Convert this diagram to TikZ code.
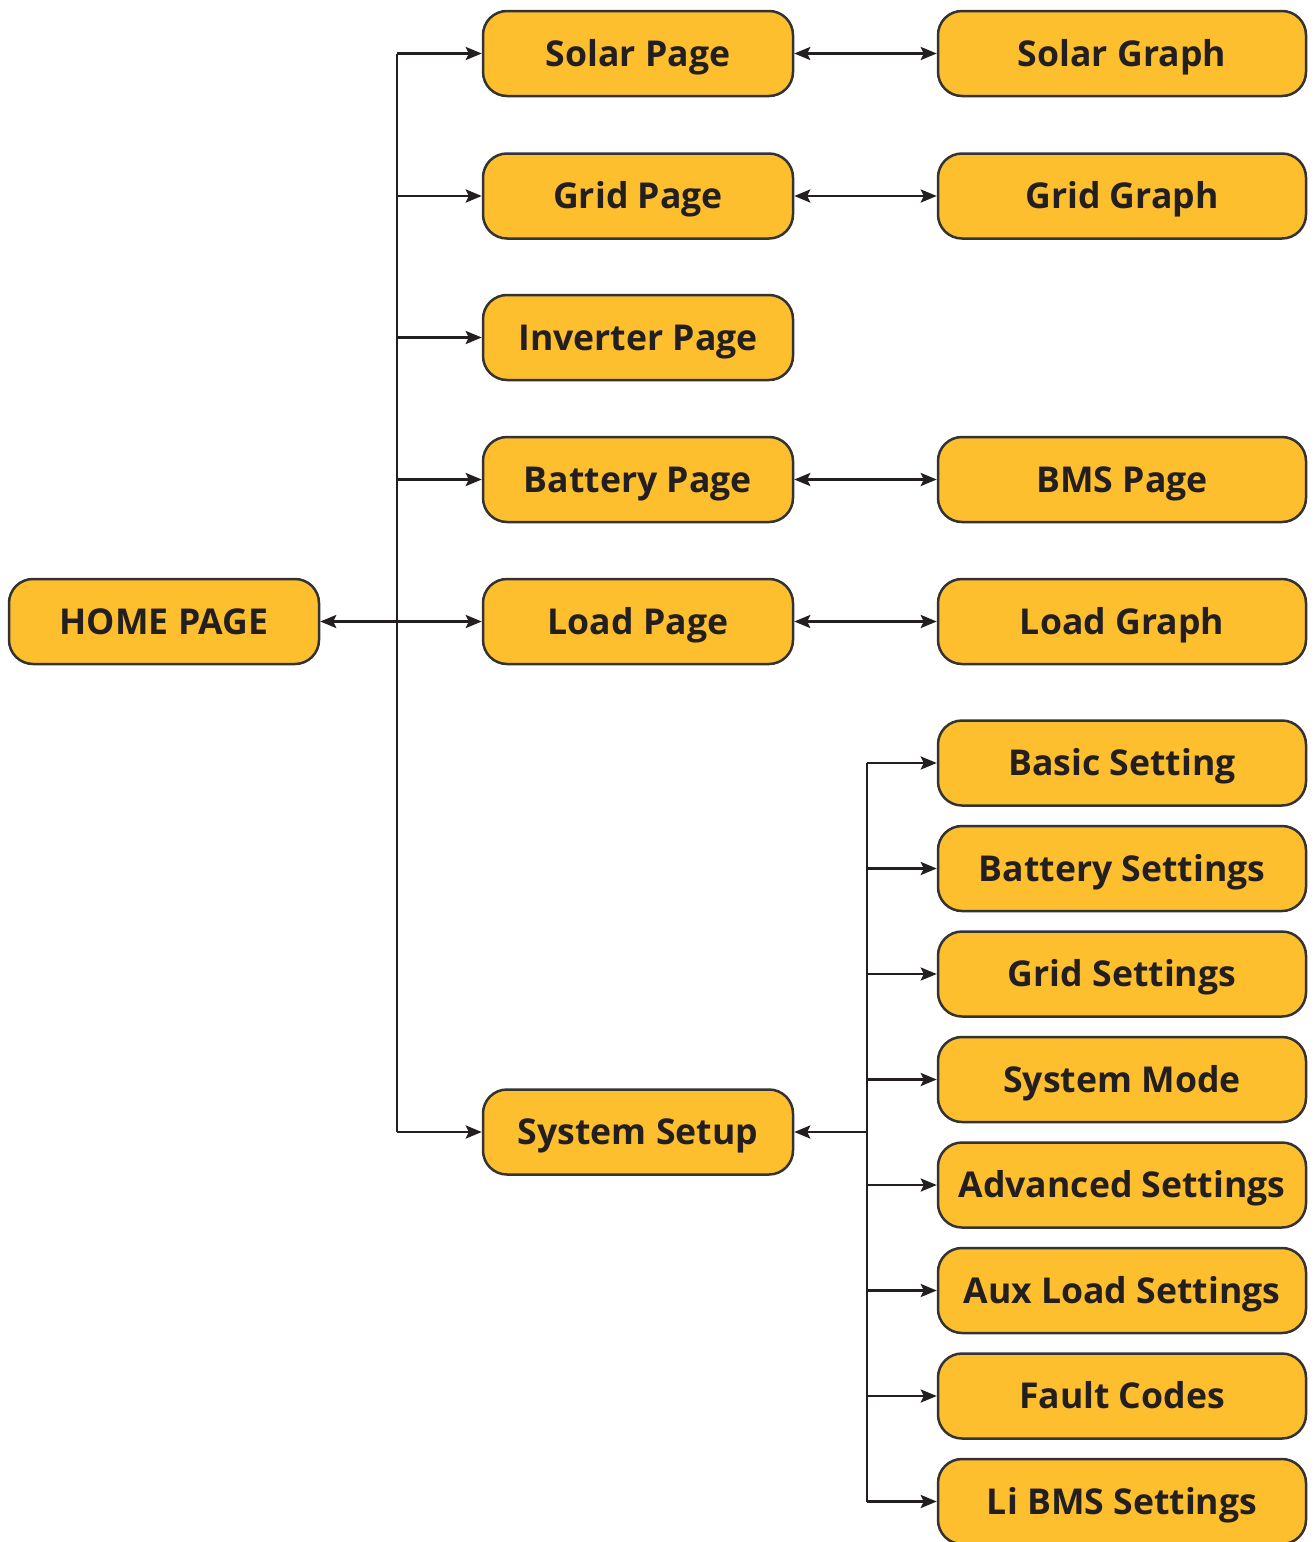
\documentclass[tikz,border=0pt]{standalone}
\usepackage{fontspec}
\setmainfont{Open Sans}
\usetikzlibrary{arrows.meta}
\definecolor{boxfill}{HTML}{FDBF2D}
\definecolor{boxline}{HTML}{333333}
\definecolor{ink}{HTML}{231F20}
\tikzset{
  pagebox/.style={draw=boxline, fill=boxfill, line width=1.25pt, rounded corners=12pt,
    minimum width=155pt, minimum height=42.5pt, inner sep=0pt, text=ink,
    text height=12.8pt, text depth=0pt,
    font=\fontsize{17.8}{20}\selectfont\bfseries},
  widebox/.style={pagebox, minimum width=184pt},
  conn/.style={draw=ink, line width=1.25pt},
  arr/.style={conn, -{Stealth[length=8pt,width=6.5pt,inset=1.5pt]}},
  darr/.style={conn, {Stealth[length=8pt,width=6.5pt,inset=1.5pt]}-{Stealth[length=8pt,width=6.5pt,inset=1.5pt]}}
}
\begin{document}
\begin{tikzpicture}[x=0.5pt,y=-0.5pt]
\useasboundingbox (0,0) rectangle (1314,1542);
\node[pagebox] (home) at (164,621.5) {HOME PAGE};
\node[pagebox] (solar) at (638,53.5) {Solar Page};
\node[pagebox] (grid) at (638,196) {Grid Page};
\node[pagebox] (inv) at (638,337.5) {Inverter Page};
\node[pagebox] (bat) at (638,479.5) {Battery Page};
\node[pagebox] (load) at (638,621.5) {Load Page};
\node[pagebox] (setup) at (638,1132) {System Setup};
\node[widebox] (solarg) at (1122,53.5) {Solar Graph};
\node[widebox] (gridg) at (1122,196) {Grid Graph};
\node[widebox] (bms) at (1122,479.5) {BMS Page};
\node[widebox] (loadg) at (1122,621.5) {Load Graph};
\node[widebox] (s1) at (1122,763) {Basic Setting};
\node[widebox] (s2) at (1122,868.5) {Battery Settings};
\node[widebox] (s3) at (1122,974) {Grid Settings};
\node[widebox] (s4) at (1122,1079.5) {System Mode};
\node[widebox] (s5) at (1122,1185) {Advanced Settings};
\node[widebox] (s6) at (1122,1290.5) {Aux Load Settings};
\node[widebox] (s7) at (1122,1396) {Fault Codes};
\node[widebox] (s8) at (1122,1501.5) {Li BMS Settings};
\coordinate (t1) at (397,621.5);
\coordinate (t2) at (867,1132);
% left trunk
\draw[conn] (397,0 |- solar.west) -- (397,0 |- setup.west);
\draw[arr] (t1) -- (home.east);
\foreach \n in {solar,grid,inv,bat,load,setup}
  \draw[arr] (t1 |- \n.west) -- (\n.west);
% bidirectional
\draw[darr] (solar.east) -- (solarg.west);
\draw[darr] (grid.east) -- (gridg.west);
\draw[darr] (bat.east) -- (bms.west);
\draw[darr] (load.east) -- (loadg.west);
% right trunk
\draw[conn] (t2 |- s1.west) -- (t2 |- s8.west);
\draw[arr] (t2) -- (setup.east);
\foreach \n in {s1,s2,s3,s4,s5,s6,s7,s8}
  \draw[arr] (t2 |- \n.west) -- (\n.west);
\end{tikzpicture}
\end{document}
